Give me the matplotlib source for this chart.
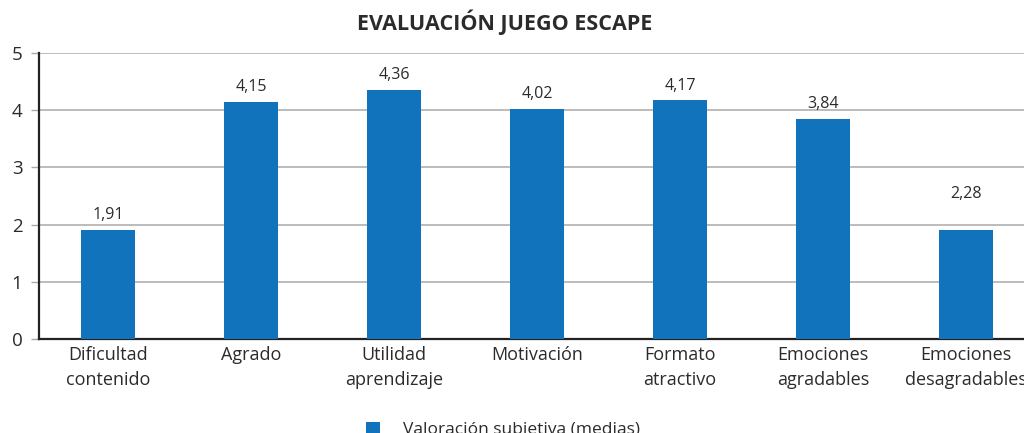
import matplotlib.pyplot as plt
import numpy as np

# datos
categorias = ['Dificultad\ncontenido', 'Agrado', 'Utilidad\naprendizaje', 'Motivación',
              'Formato\natractivo', 'Emociones\nagradables', 'Emociones\ndesagradables']
alturas = [1.91, 4.15, 4.36, 4.02, 4.17, 3.84, 1.91]
etiquetas = ['1,91', '4,15', '4,36', '4,02', '4,17', '3,84', '2,28']
pos_etiquetas = [1.91, 4.15, 4.36, 4.02, 4.17, 3.84, 2.28]

plt.rcParams['font.family'] = ['Open Sans', 'DejaVu Sans']
texto = '#2b2b2b'
azul = '#1173bb'

fig = plt.figure(figsize=(10.24, 4.33), dpi=100)
ax = fig.add_axes([39/1024, 94/433, 998.5/1024, 286/433])

x = np.arange(len(categorias))
barras = ax.bar(x, alturas, width=0.378, color=azul, zorder=3,
                label='Valoración subjetiva (medias)')

for xi, yi, t in zip(x, pos_etiquetas, etiquetas):
    ax.text(xi, yi + 0.12, t, ha='center', va='bottom', fontsize=11.5, color=texto)

ax.set_xlim(-0.4825, 6.5)
ax.set_ylim(0, 5)
ax.set_yticks(range(6))
ax.yaxis.grid(True, color='#aaaaaa', linewidth=1.1, zorder=0)
ax.set_xticks(x)
ax.set_xticklabels(categorias, fontsize=13, color=texto, linespacing=1.5)
ax.tick_params(axis='x', length=0, pad=5)
ax.tick_params(axis='y', length=6, width=1, color='#aaaaaa', labelsize=13.5,
               labelcolor=texto, pad=6)
for s in ['top', 'right']:
    ax.spines[s].set_visible(False)
for s in ['left', 'bottom']:
    ax.spines[s].set_linewidth(1.6)
    ax.spines[s].set_color('#222222')

fig.text(505/1024, 1 - 22/433, 'EVALUACIÓN JUEGO ESCAPE', ha='center', va='center',
         fontsize=15.5, fontweight='bold', color=texto)

fig.legend(handles=[barras], loc='center', bbox_to_anchor=(503/1024, 1 - 430/433),
           frameon=False, fontsize=12.5, handlelength=0.8, handleheight=0.8,
           handletextpad=1.3, labelcolor=texto)

fig.savefig('out.png', dpi=100)
